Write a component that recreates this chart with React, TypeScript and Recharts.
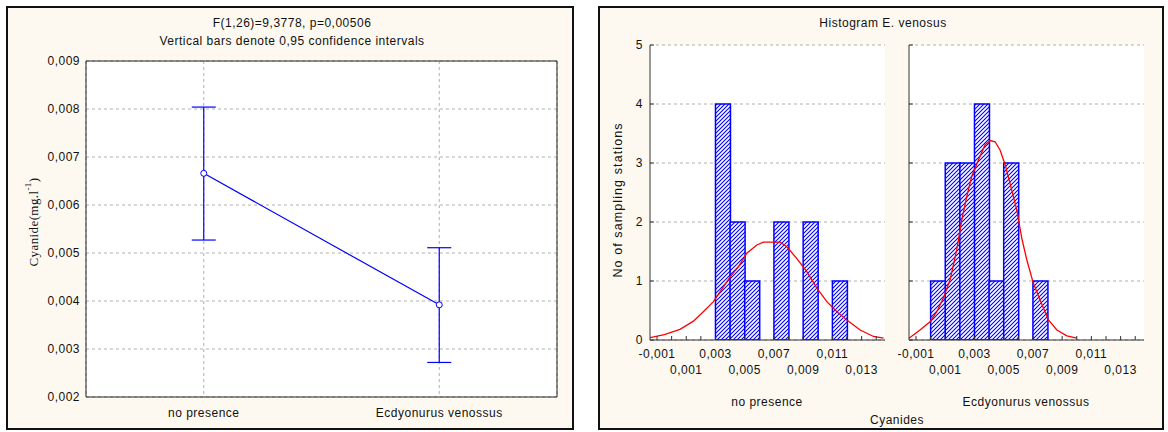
import React from 'react';
import {
  ComposedChart,
  Line,
  Bar,
  XAxis,
  YAxis,
  CartesianGrid,
  ErrorBar,
  ReferenceArea,
} from 'recharts';

const FONT = '"Liberation Sans", Arial, Helvetica, sans-serif';
const SERIF = '"Liberation Serif", "Times New Roman", serif';
const CREAM = '#fdf9f0';
const LS = 0.5;

// ---- Left panel: means with 0.95 confidence intervals ----
const groups = ['no presence', 'Ecdyonurus venossus'];
const groupMeans = [0.00666, 0.00392];
const ciLower = [0.00527, 0.00272];
const ciUpper = [0.00804, 0.00511];
const cyanideTicks = [0.002, 0.003, 0.004, 0.005, 0.006, 0.007, 0.008, 0.009];

// ---- Right panel: histograms ----
const histDomain = [-0.00148, 0.0146];
const histTicks = [
  -0.001, 0, 0.001, 0.002, 0.003, 0.004, 0.005, 0.006, 0.007, 0.008, 0.009, 0.01,
  0.011, 0.012, 0.013, 0.014,
];
const countTicks = [0, 1, 2, 3, 4, 5];

const binCenters1 = [0.0035, 0.0045, 0.0055, 0.0075, 0.0095, 0.0115];
const binCounts1 = [4, 2, 1, 2, 2, 1];
const binCenters2 = [0.0005, 0.0015, 0.0025, 0.0035, 0.0045, 0.0055, 0.0075];
const binCounts2 = [1, 3, 3, 4, 1, 3, 1];

const curve1X = [
  -0.00148, -0.0005, 0.00057, 0.00149, 0.00217, 0.00286, 0.00354, 0.004, 0.00457, 0.00514,
  0.00583, 0.00628, 0.00742, 0.00788, 0.00857, 0.00925, 0.00994, 0.01062, 0.01131, 0.01199,
  0.0129, 0.01381, 0.0145,
];
const curve1Y = [
  0.04, 0.09, 0.18, 0.32, 0.48, 0.65, 0.9, 1.07, 1.24, 1.47, 1.61, 1.66, 1.66, 1.58, 1.38,
  1.16, 0.88, 0.65, 0.48, 0.34, 0.17, 0.06, 0.03,
];
const curve2X = [
  -0.00148, -0.00073, -0.00004, 0.00042, 0.00087, 0.00133, 0.00179, 0.00213, 0.00247,
  0.00281, 0.00327, 0.00373, 0.00407, 0.00441, 0.00475, 0.0051, 0.00555, 0.0059, 0.00624,
  0.00658, 0.00703, 0.00749, 0.00806, 0.00864, 0.00932, 0.01001,
];
const curve2Y = [
  0.03, 0.17, 0.31, 0.48, 0.71, 1.02, 1.53, 2.03, 2.43, 2.77, 3.05, 3.31, 3.38, 3.36, 3.22,
  2.97, 2.54, 2.2, 1.72, 1.36, 0.96, 0.68, 0.34, 0.17, 0.07, 0.03,
];

const meansData = groups.map((name, i) => ({
  name,
  mean: groupMeans[i],
  err: [groupMeans[i] - ciLower[i], ciUpper[i] - groupMeans[i]],
}));
const hist1 = binCenters1.map((x, i) => ({ x, count: binCounts1[i] }));
const hist2 = binCenters2.map((x, i) => ({ x, count: binCounts2[i] }));
const curve1 = curve1X.map((x, i) => ({ x, y: curve1Y[i] }));
const curve2 = curve2X.map((x, i) => ({ x, y: curve2Y[i] }));

const fmt3 = (v: number) => v.toFixed(3).replace('.', ',');

const txt = { fontSize: 12, fontFamily: FONT, fill: '#111', letterSpacing: LS } as any;

const CyanYTick = (p: any) => (
  <text x={p.x} y={p.y} textAnchor="end" dominantBaseline="central" {...txt}>
    {fmt3(p.payload.value)}
  </text>
);

const GroupXTick = (p: any) => (
  <text x={p.x} y={p.y + 16} textAnchor="middle" dominantBaseline="central" {...txt}>
    {p.payload.value}
  </text>
);

const HistXTick = (p: any) => {
  const v = p.payload.value as number;
  const k = Math.round(v * 1000);
  const labeled = Math.abs(k % 2) === 1;
  const row = labeled ? ((k + 1) / 2) % 2 : 0;
  return (
    <g>
      <line x1={p.x} y1={p.y} x2={p.x} y2={p.y - 4} stroke="#333" />
      {labeled && (
        <text x={p.x} y={p.y + 14 + row * 16} textAnchor="middle" dominantBaseline="central" {...txt}>
          {fmt3(v)}
        </text>
      )}
    </g>
  );
};

const HistTopTick = (p: any) => (
  <line x1={p.x} y1={p.y} x2={p.x} y2={p.y + 4} stroke="#333" />
);

const CountYTick = (p: any) => (
  <g>
    <line x1={p.x} y1={p.y} x2={p.x + 4} y2={p.y} stroke="#333" />
    {p.showLabel && (
      <text x={p.x - 7} y={p.y} textAnchor="end" dominantBaseline="central" {...txt}>
        {p.payload.value}
      </text>
    )}
  </g>
);

const CountRightTick = (p: any) => (
  <line x1={p.x} y1={p.y} x2={p.x - 4} y2={p.y} stroke="#333" />
);

function Histogram({ bins, curve, left, showLabels }: any) {
  return (
    <div style={{ position: 'absolute', left, top: 35 }}>
      <ComposedChart
        width={285}
        height={360}
        data={bins}
        margin={{ top: 10, right: 10, bottom: 10, left: 10 }}
        barCategoryGap={0}
        barGap={0}
      >
        <CartesianGrid
          yAxisId="l"
          vertical={false}
          stroke="#b0b0b0"
          strokeDasharray="3 3"
          fill="#ffffff"
          fillOpacity={1}
        />
        <XAxis
          dataKey="x"
          type="number"
          domain={histDomain}
          ticks={histTicks}
          interval={0}
          allowDataOverflow
          height={45}
          axisLine={{ stroke: '#333' }}
          tickLine={false}
          tickSize={0}
          tickMargin={0}
          tick={<HistXTick />}
        />
        <XAxis
          xAxisId="t"
          orientation="top"
          dataKey="x"
          type="number"
          domain={histDomain}
          ticks={histTicks}
          interval={0}
          allowDataOverflow
          height={0}
          axisLine={{ stroke: '#333' }}
          tickLine={false}
          tickSize={0}
          tickMargin={0}
          tick={<HistTopTick />}
        />
        <YAxis
          yAxisId="l"
          type="number"
          domain={[0, 5]}
          ticks={countTicks}
          interval={0}
          allowDataOverflow
          width={30}
          axisLine={{ stroke: '#333' }}
          tickLine={false}
          tickSize={0}
          tickMargin={0}
          tick={<CountYTick showLabel={showLabels} />}
        />
        <YAxis
          yAxisId="r"
          orientation="right"
          type="number"
          domain={[0, 5]}
          ticks={countTicks}
          interval={0}
          allowDataOverflow
          width={0}
          axisLine={{ stroke: '#333' }}
          tickLine={false}
          tickSize={0}
          tickMargin={0}
          tick={<CountRightTick />}
        />
        <Bar
          dataKey="count"
          yAxisId="l"
          fill="url(#hatch)"
          stroke="#0000ff"
          strokeWidth={1.5}
          isAnimationActive={false}
        />
        <Line
          data={curve}
          dataKey="y"
          xAxisId="t"
          yAxisId="l"
          type="linear"
          stroke="#ff0000"
          strokeWidth={1.3}
          dot={false}
          isAnimationActive={false}
        />
      </ComposedChart>
    </div>
  );
}

export default function App() {
  return (
    <div
      style={{
        position: 'absolute',
        left: 0,
        top: 0,
        width: 1168,
        height: 432,
        background: '#ffffff',
        overflow: 'hidden',
      }}
    >
      <svg width={0} height={0} style={{ position: 'absolute' }}>
        <defs>
          <pattern id="hatch" patternUnits="userSpaceOnUse" width={4} height={4}>
            <rect width={4} height={4} fill="#ffffff" />
            <path d="M-1,1 l2,-2 M0,4 l4,-4 M3,5 l2,-2" stroke="#0000ff" strokeWidth={1.1} />
          </pattern>
        </defs>
      </svg>

      {/* panel frames */}
      <div
        style={{
          position: 'absolute',
          left: 6,
          top: 6,
          width: 568,
          height: 424,
          boxSizing: 'border-box',
          border: '2px solid #111',
          background: CREAM,
        }}
      />
      <div
        style={{
          position: 'absolute',
          left: 598,
          top: 6,
          width: 566,
          height: 424,
          boxSizing: 'border-box',
          border: '2px solid #111',
          background: CREAM,
        }}
      />

      {/* left chart */}
      <div style={{ position: 'absolute', left: 0, top: 0 }}>
        <ComposedChart
          width={574}
          height={430}
          data={meansData}
          margin={{ top: 61, right: 17, bottom: 13, left: 0 }}
        >
          <CartesianGrid stroke="#b0b0b0" strokeDasharray="3 3" fill="#ffffff" fillOpacity={1} />
          <XAxis
            dataKey="name"
            type="category"
            scale="band"
            height={20}
            axisLine={false}
            tickLine={false}
            tickSize={0}
            tickMargin={0}
            tick={<GroupXTick />}
          />
          <YAxis
            type="number"
            domain={[0.002, 0.009]}
            ticks={cyanideTicks}
            interval={0}
            allowDataOverflow
            width={86}
            axisLine={false}
            tickLine={false}
            tickSize={0}
            tickMargin={6}
            tick={<CyanYTick />}
          />
          <ReferenceArea y1={0.002} y2={0.009} fill="none" stroke="#222" strokeWidth={1} />
          <Line
            dataKey="mean"
            type="linear"
            stroke="#0000ff"
            strokeWidth={1.2}
            dot={{ r: 3, fill: '#ffffff', stroke: '#0000ff', strokeWidth: 1 }}
            isAnimationActive={false}
          >
            <ErrorBar dataKey="err" width={12} stroke="#0000ff" strokeWidth={1.2} direction="y" />
          </Line>
        </ComposedChart>
      </div>

      {/* right charts */}
      <Histogram bins={hist1} curve={curve1} left={610} showLabels />
      <Histogram bins={hist2} curve={curve2} left={869} showLabels={false} />

      {/* texts */}
      <svg
        width={1168}
        height={432}
        style={{ position: 'absolute', left: 0, top: 0, pointerEvents: 'none' }}
      >
        <g {...txt} textAnchor="middle" dominantBaseline="central">
          <text x={292} y={23}>F(1,26)=9,3778, p=0,00506</text>
          <text x={292} y={41}>Vertical bars denote 0,95 confidence intervals</text>
          <text x={883} y={23}>Histogram E. venosus</text>
          <text x={767} y={402}>no presence</text>
          <text x={1026} y={402}>Ecdyonurus venossus</text>
          <text x={897} y={420}>Cyanides</text>
          <text
            transform="translate(618,200) rotate(-90)"
            x={0}
            y={0}
            fontSize={12.5}
            letterSpacing={1.1}
          >
            No of sampling stations
          </text>
        </g>
        <text
          transform="translate(33,222) rotate(-90)"
          x={0}
          y={0}
          textAnchor="middle"
          dominantBaseline="central"
          fontFamily={SERIF}
          fontSize={13}
          letterSpacing={0.4}
          fill="#111"
        >
          Cyanide(mg.l
          <tspan fontSize={9} dy={-5}>
            -1
          </tspan>
          <tspan dy={5}>)</tspan>
        </text>
      </svg>
    </div>
  );
}
